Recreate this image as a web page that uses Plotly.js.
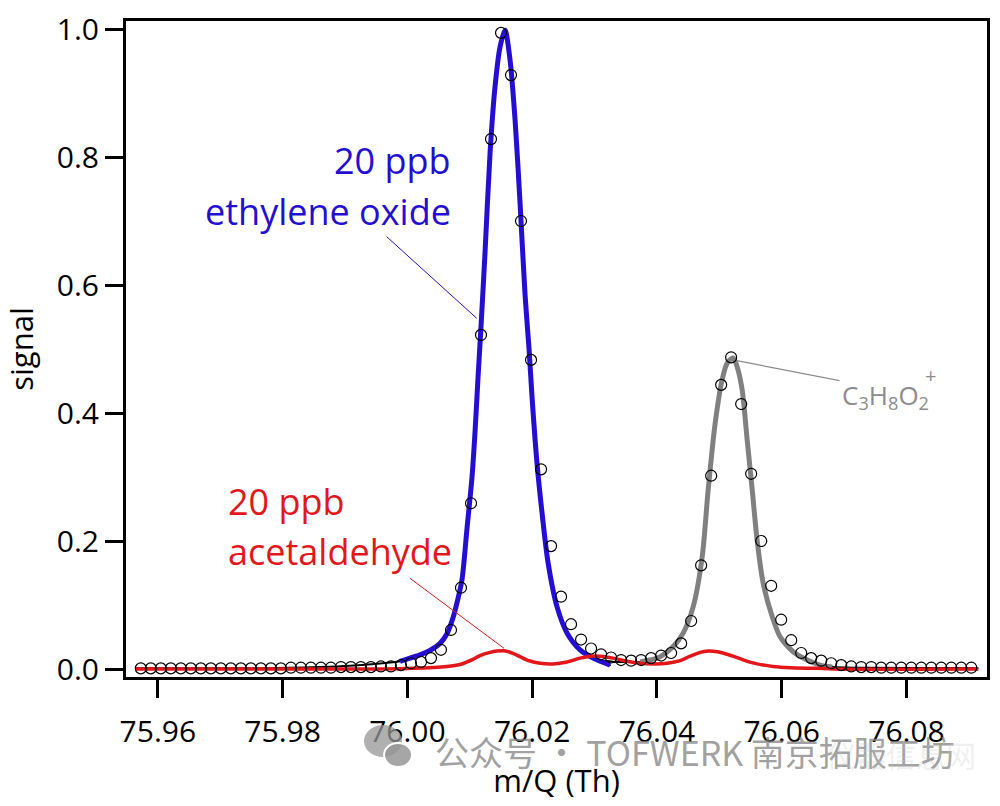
<!DOCTYPE html>
<html>
<head>
<meta charset="utf-8">
<script src="https://cdn.plot.ly/plotly-3.0.1.min.js"></script>
<style>html,body{margin:0;padding:0;background:#fff;}#chart{width:1000px;height:806px;}</style>
</head>
<body>
<div id="chart"></div>
<script>
// measured data points (open circles)
var measX = [75.95727,75.95887,75.96048,75.96208,75.96369,75.96529,75.96689,75.96850,75.97010,75.97170,
75.97331,75.97491,75.97652,75.97812,75.97972,75.98133,75.98293,75.98453,75.98614,75.98774,
75.98935,75.99095,75.99255,75.99416,75.99576,75.99737,75.99897,76.00057,76.00218,76.00378,
76.00538,76.00699,76.00859,76.01020,76.01180,76.01340,76.01501,76.01661,76.01821,76.01982,
76.02142,76.02303,76.02463,76.02623,76.02784,76.02944,76.03104,76.03265,76.03425,76.03586,
76.03746,76.03906,76.04067,76.04227,76.04388,76.04548,76.04708,76.04869,76.05029,76.05189,
76.05350,76.05510,76.05671,76.05831,76.05991,76.06152,76.06312,76.06472,76.06633,76.06793,
76.06954,76.07114,76.07274,76.07435,76.07595,76.07755,76.07916,76.08076,76.08237,76.08397,
76.08557,76.08718,76.08878,76.09038];
var measY = [0.001,0.001,0.001,0.001,0.001,0.001,0.001,0.001,0.001,0.001,
0.001,0.001,0.001,0.001,0.001,0.002,0.002,0.002,0.002,0.002,
0.003,0.003,0.003,0.003,0.004,0.004,0.006,0.009,0.011,0.017,
0.030,0.061,0.127,0.259,0.522,0.828,0.994,0.928,0.700,0.483,
0.312,0.192,0.113,0.070,0.046,0.032,0.023,0.018,0.014,0.013,
0.014,0.017,0.021,0.025,0.040,0.075,0.162,0.302,0.444,0.487,
0.414,0.305,0.200,0.130,0.077,0.045,0.025,0.017,0.013,0.009,
0.006,0.004,0.003,0.003,0.002,0.002,0.002,0.002,0.002,0.002,
0.002,0.002,0.002,0.002];

// ethylene oxide fit (blue)
var blueX = [75.99881,76.00042,76.00202,76.00362,76.00523,76.00635,76.00731,76.00811,76.00876,76.00956,
76.01036,76.01084,76.01132,76.01180,76.01244,76.01325,76.01405,76.01485,76.01565,76.01645,
76.01726,76.01806,76.01886,76.01950,76.01998,76.02078,76.02158,76.02255,76.02399,76.02560,
76.02768,76.02977,76.03249];
var blueY = [0.012,0.017,0.022,0.029,0.040,0.055,0.080,0.110,0.140,0.220,
0.300,0.370,0.455,0.535,0.650,0.806,0.910,0.972,0.998,0.952,
0.858,0.728,0.585,0.500,0.425,0.321,0.244,0.166,0.097,0.056,
0.030,0.017,0.006];

// C3H8O2+ fit (gray)
var grayX = [76.03730,76.03891,76.04051,76.04260,76.04420,76.04580,76.04725,76.04821,76.04933,76.05045,
76.05126,76.05222,76.05286,76.05366,76.05446,76.05527,76.05607,76.05703,76.05847,76.05976,
76.06184,76.06409,76.06617,76.06810];
var grayY = [0.011,0.014,0.019,0.035,0.056,0.097,0.175,0.280,0.384,0.452,
0.478,0.486,0.472,0.436,0.358,0.280,0.200,0.134,0.082,0.050,
0.027,0.014,0.006,0.003];

// acetaldehyde fit (red)
var redX = [75.95647,75.98277,75.99560,76.00090,76.00635,76.00843,76.00956,76.01052,76.01164,76.01325,
76.01437,76.01549,76.01693,76.01918,76.02127,76.02335,76.02560,76.02768,76.02928,76.03089,
76.03297,76.03522,76.03730,76.03971,76.04163,76.04372,76.04532,76.04693,76.04821,76.04965,
76.05126,76.05254,76.05446,76.05607,76.05863,76.06136,76.06569,76.06826,76.09151];
var redY = [0.000,0.000,0.000,0.001,0.004,0.007,0.011,0.015,0.021,0.026,
0.028,0.0285,0.0245,0.014,0.009,0.008,0.011,0.017,0.020,0.020,
0.017,0.012,0.009,0.008,0.009,0.013,0.020,0.026,0.028,0.027,
0.023,0.019,0.012,0.008,0.004,0.002,0.001,0.000,0.000];

// total fit (black) pieces outside the blue and gray fits
var totLeftX = [75.95647,75.97475,75.98117,75.98598,75.99079,75.99480];
var totLeftY = [0.001,0.001,0.002,0.003,0.005,0.008];
var totMidX = [76.03137,76.03329,76.03538];
var totMidY = [0.013,0.011,0.011];
var totRightX = [76.07259,76.09151];
var totRightY = [0.002,0.001];

var xTicks = [75.96,75.98,76.00,76.02,76.04,76.06,76.08];
var xTickText = ['75.96','75.98','76.00','76.02','76.04','76.06','76.08'];
var yTicks = [0,0.2,0.4,0.6,0.8,1.0];
var yTickText = ['0.0','0.2','0.4','0.6','0.8','1.0'];

var totX = totLeftX.concat(blueX, totMidX, grayX, totRightX);
var totY = totLeftY.concat(blueY, totMidY, grayY, totRightY);

var FONT = 'Open Sans, Noto Sans, sans-serif';
var BLUE = 'rgb(36,14,210)';
var RED = 'rgb(228,22,26)';
var GRAYTXT = 'rgb(140,140,140)';

var traces = [
  {x: totX, y: totY, mode: 'lines', line: {color: 'black', width: 2, shape: 'spline', smoothing: 0.8}, hoverinfo: 'skip'},
  {x: blueX, y: blueY, mode: 'lines', line: {color: BLUE, width: 5, shape: 'spline', smoothing: 0.8}, hoverinfo: 'skip'},
  {x: grayX, y: grayY, mode: 'lines', line: {color: 'rgb(128,128,128)', width: 5, shape: 'spline', smoothing: 0.8}, hoverinfo: 'skip'},
  {x: redX, y: redY, mode: 'lines', line: {color: RED, width: 3.5, shape: 'spline', smoothing: 0.8}, hoverinfo: 'skip'},
  {x: measX, y: measY, mode: 'markers', marker: {symbol: 'circle-open', size: 11, color: 'black', line: {width: 1.2, color: 'black'}}, hoverinfo: 'skip'}
];

var layout = {
  width: 1000, height: 806,
  margin: {l: 126, r: 13, t: 21, b: 129},
  paper_bgcolor: 'white', plot_bgcolor: 'white',
  showlegend: false,
  font: {family: FONT, color: 'black'},
  xaxis: {
    range: [75.9549, 76.0929],
    showline: true, linewidth: 3, linecolor: 'black', mirror: true,
    ticks: 'outside', ticklen: 18, tickwidth: 3, tickcolor: 'black',
    tickvals: xTicks, ticktext: xTickText, ticklabelstandoff: 8,
    tickfont: {size: 30, family: FONT, color: 'black'},
    showgrid: false, zeroline: false,
    title: {text: 'm/Q (Th)', font: {size: 31, family: FONT, color: 'black'}, standoff: 21}
  },
  yaxis: {
    range: [-0.0125, 1.0125],
    showline: true, linewidth: 3, linecolor: 'black', mirror: true,
    ticks: 'outside', ticklen: 18, tickwidth: 3, tickcolor: 'black',
    tickvals: yTicks, ticktext: yTickText,
    tickfont: {size: 30, family: FONT, color: 'black'},
    showgrid: false, zeroline: false,
    title: {text: 'signal', font: {size: 31, family: FONT, color: 'black'}, standoff: 23}
  },
  shapes: [
    {type: 'line', xref: 'x', yref: 'y', x0: 75.99668, y0: 0.6755, x1: 76.01111, y1: 0.548, line: {color: BLUE, width: 1}},
    {type: 'line', xref: 'x', yref: 'y', x0: 76.00042, y0: 0.1417, x1: 76.01549, y1: 0.0323, line: {color: RED, width: 1}},
    {type: 'line', xref: 'x', yref: 'y', x0: 76.05281, y0: 0.4817, x1: 76.06927, y1: 0.4505, line: {color: GRAYTXT, width: 1.2}},
    // watermark icon
    {type: 'circle', xref: 'paper', yref: 'paper', x0: 0.2764, x1: 0.3206, y0: -0.1220, y1: -0.0732, fillcolor: 'rgba(150,150,150,0.75)', line: {width: 0}},
    {type: 'circle', xref: 'paper', yref: 'paper', x0: 0.2997, x1: 0.3322, y0: -0.1372, y1: -0.1006, fillcolor: 'rgba(150,150,150,0.85)', line: {width: 2, color: 'white'}}
  ],
  annotations: [
    {xref: 'x', yref: 'y', x: 76.00731, y: 0.795, xanchor: 'right', yanchor: 'middle', showarrow: false, text: '20 ppb', font: {size: 36, family: FONT, color: BLUE}},
    {xref: 'x', yref: 'y', x: 76.00731, y: 0.715, xanchor: 'right', yanchor: 'middle', showarrow: false, text: 'ethylene oxide', font: {size: 36, family: FONT, color: BLUE}},
    {xref: 'x', yref: 'y', x: 75.97090, y: 0.262, xanchor: 'left', yanchor: 'middle', showarrow: false, text: '20 ppb', font: {size: 36, family: FONT, color: RED}},
    {xref: 'x', yref: 'y', x: 75.97090, y: 0.183, xanchor: 'left', yanchor: 'middle', showarrow: false, text: 'acetaldehyde', font: {size: 36, family: FONT, color: RED}},
    {xref: 'x', yref: 'y', x: 76.06927, y: 0.427, xanchor: 'left', yanchor: 'middle', showarrow: false, text: 'C<sub>3</sub>H<sub>8</sub>O<sub>2</sub>', font: {size: 26, family: FONT, color: GRAYTXT}},
    {xref: 'x', yref: 'y', x: 76.08381, y: 0.458, xanchor: 'center', yanchor: 'middle', showarrow: false, text: '+', font: {size: 20, family: FONT, color: GRAYTXT}},
    {xref: 'paper', yref: 'paper', x: 0.6609, y: -0.1143, xanchor: 'center', yanchor: 'middle', showarrow: false, text: '公众号 · TOFWERK 南京拓服工坊', font: {size: 34, family: 'Noto Sans CJK SC, sans-serif', color: 'rgba(130,130,130,0.75)'}},
    {xref: 'paper', yref: 'paper', x: 0.9, y: -0.118, xanchor: 'center', yanchor: 'middle', showarrow: false, text: '仪器信息网', font: {size: 30, family: 'Noto Sans CJK SC, sans-serif', color: 'rgba(200,200,200,0.3)'}}
  ]
};

Plotly.newPlot('chart', traces, layout, {displayModeBar: false, staticPlot: true});
</script>
</body>
</html>
